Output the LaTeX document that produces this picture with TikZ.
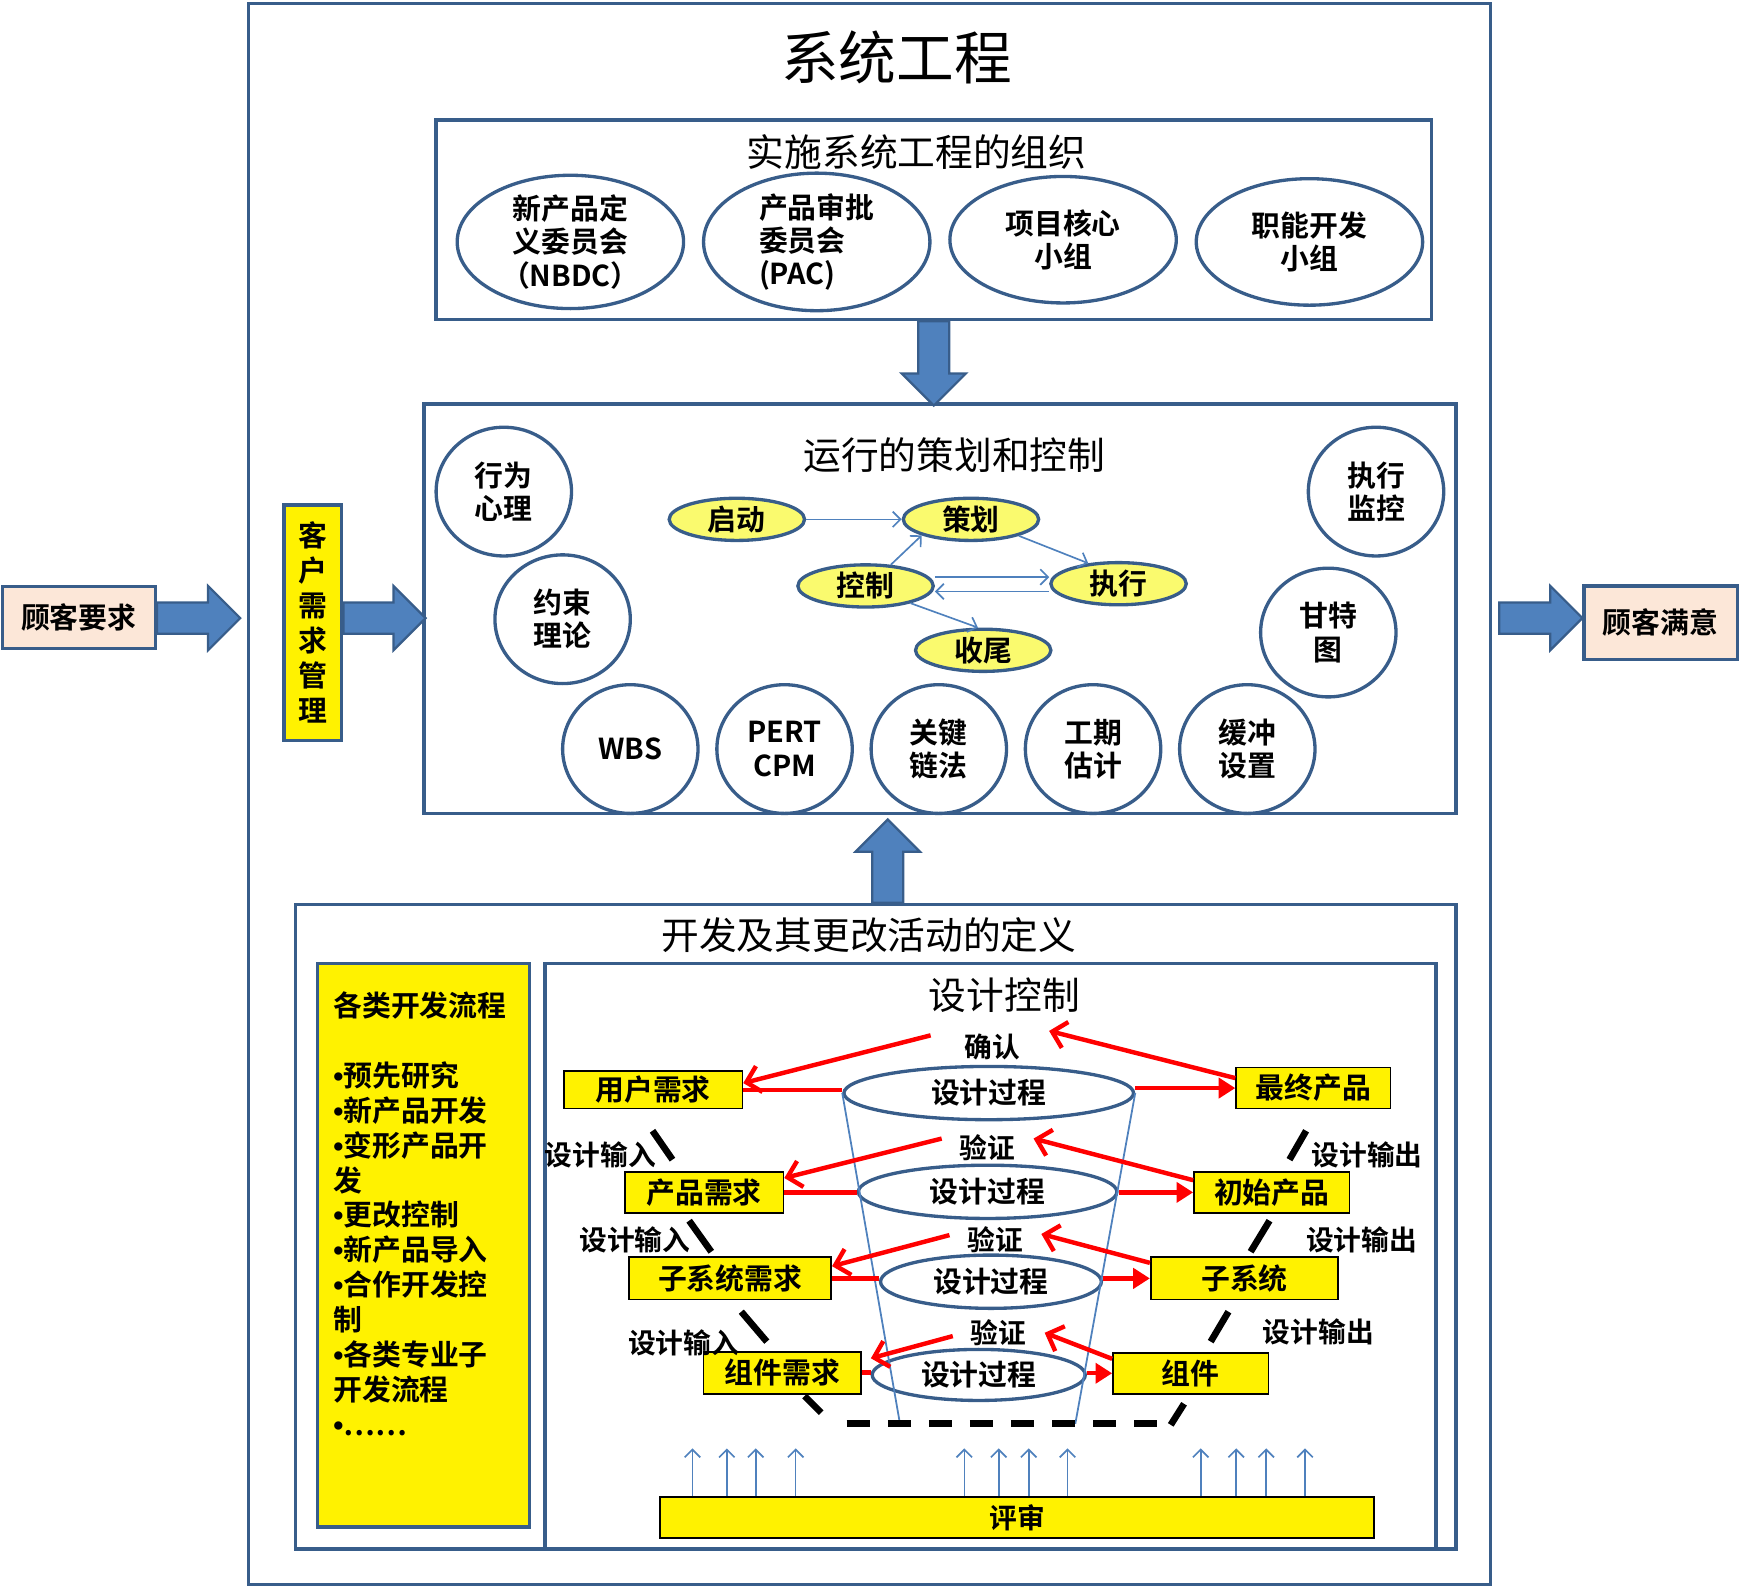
\documentclass[tikz,border=0pt]{standalone}
\usepackage{fontspec}
\setmainfont{Noto Sans CJK SC}[BoldFont={Noto Sans CJK SC Bold}]
\newfontfamily\bulfont{Liberation Sans}
\usetikzlibrary{arrows.meta, positioning, shapes.geometric, calc, fit}
\definecolor{boxblue}{RGB}{56,93,138}
\definecolor{fillblue}{RGB}{79,129,189}
\definecolor{peach}{RGB}{252,231,216}
\definecolor{lightyellow}{RGB}{250,250,110}
\definecolor{myred}{RGB}{255,0,0}
\newcommand{\itm}{{\bulfont\bfseries •}}

\begin{document}
\begin{tikzpicture}[x=0.5pt, y=-0.5pt,
    bluebox/.style={draw=boxblue, line width=1.5pt, inner sep=0pt},
    heading/.style={font=\fontsize{17pt}{20pt}\selectfont},
    lab/.style={font=\bfseries\fontsize{13pt}{15pt}\selectfont, align=center},
    orgell/.style={lab, ellipse, draw=boxblue, line width=1.5pt, minimum width=102pt, minimum height=57pt, inner sep=0pt},
    toolcirc/.style={lab, ellipse, draw=boxblue, line width=1.5pt, minimum width=61pt, minimum height=58pt, inner sep=0pt},
    stepell/.style={lab, ellipse, draw=boxblue, line width=1.5pt, fill=lightyellow, minimum width=61pt, minimum height=19pt, inner sep=0pt},
    ybox/.style={lab, draw=black, line width=0.8pt, fill=yellow, inner sep=0pt},
    pbox/.style={lab, draw=boxblue, line width=1.5pt, fill=peach, inner sep=0pt},
    procell/.style={lab, ellipse, draw=boxblue, line width=1.5pt, inner sep=0pt},
    vlabel/.style={lab, font=\bfseries\fontsize{12.5pt}{14pt}\selectfont, inner xsep=8pt, inner ysep=0pt},
    iolabel/.style={lab, font=\bfseries\fontsize{12.5pt}{14pt}\selectfont, inner sep=0pt},
    bigarrow/.style={fill=fillblue, draw=boxblue, line width=1pt},
    thinarrow/.style={draw=fillblue, line width=0.75pt, -{Straight Barb[length=3.5pt,width=7pt]}},
    redline/.style={draw=myred, line width=2pt},
    redopen/.style={redline, -{Straight Barb[length=6pt,width=12pt]}},
    redsolid/.style={redline, -{Triangle[length=7.5pt,width=9pt]}},
    ioslash/.style={draw=black, line width=3pt},
    funnel/.style={draw=fillblue, line width=0.8pt},
]
    \useasboundingbox (0,0) rectangle (1568,1431);

    % Outer frame
    \node[bluebox, fit={(224,3) (1343,1428)}] (sysbox) {};
    \node[font=\fontsize{26pt}{30pt}\selectfont] (systitle) at (808,52) {系统工程};

    % Customer in and out
    \node[pbox, minimum width=69pt, minimum height=28pt] (custreq) at (71,556.5) {顾客要求};
    \node[pbox, minimum width=69pt, minimum height=33pt] (custsat) at (1496.5,561) {顾客满意};
    \node[ybox, draw=boxblue, line width=1.5pt, minimum width=26pt, minimum height=106pt,
          font=\bfseries\fontsize{13pt}{15.75pt}\selectfont] (crm) at (282,561) {客\\户\\需\\求\\管\\理};

    % Organisation
    \node[bluebox, fit={(393,108) (1290,288)}] (orgbox) {};
    \node[heading] (orgtitle) at (826,137) {实施系统工程的组织};
    \node[orgell] (nbdc) at (514,218) {新产品定\\义委员会\\（NBDC）};
    \node[orgell, align=left] (pac) at (736,218) {产品审批\\委员会\\(PAC)};
    \node[orgell] (core) at (958,216) {项目核心\\小组};
    \node[orgell] (func) at (1180,218) {职能开发\\小组};

    % Planning and control
    \node[bluebox, fit={(382,364) (1312,733)}] (planbox) {};
    \node[heading] (plantitle) at (860,410) {运行的策划和控制};
    \node[toolcirc] (psych) at (454,443) {行为\\心理};
    \node[toolcirc] (toc) at (507,558) {约束\\理论};
    \node[toolcirc] (wbs) at (568,675) {WBS};
    \node[toolcirc] (pert) at (707,675) {PERT\\CPM};
    \node[toolcirc] (ccpm) at (846,675) {关键\\链法};
    \node[toolcirc] (dur) at (985,675) {工期\\估计};
    \node[toolcirc] (buf) at (1124,675) {缓冲\\设置};
    \node[toolcirc] (gantt) at (1197,570) {甘特\\图};
    \node[toolcirc] (monit) at (1240,443) {执行\\监控};

    \node[stepell] (start) at (664,468) {启动};
    \node[stepell] (plan) at (875,468) {策划};
    \node[stepell] (ctrl) at (780,528) {控制};
    \node[stepell] (exec) at (1008,526) {执行};
    \node[stepell] (close) at (886,586) {收尾};

    \draw[thinarrow] (start.east) -- (plan.west);
    \draw[thinarrow] (ctrl.40) -- (plan.198);
    \draw[thinarrow] (plan.341) -- (exec.146);
    \draw[thinarrow] ([yshift=4pt]ctrl.east) -- ([yshift=3pt]exec.west);
    \draw[thinarrow] ([yshift=-3.5pt]exec.west) -- ([yshift=-2.5pt]ctrl.east);
    \draw[thinarrow] (ctrl.339) -- (close.103);

    % Development and change
    \node[bluebox, fit={(266,815) (1312,1396)}] (devbox) {};
    \node[heading] (devtitle) at (783,843) {开发及其更改活动的定义};
    \node[ybox, draw=boxblue, line width=1.5pt, fit={(286,868) (477,1376)}] (flowbox) {};
    \node[lab, align=left, anchor=north west, inner sep=0pt,
          font=\bfseries\fontsize{13pt}{15.75pt}\selectfont] (flowlist) at (300,893)
          {各类开发流程\\[15.75pt]\itm 预先研究\\\itm 新产品开发\\\itm 变形产品开\\发\\\itm 更改控制\\\itm 新产品导入\\\itm 合作开发控\\制\\\itm 各类专业子\\开发流程\\\itm ……};

    % Design control
    \node[bluebox, fit={(491,868) (1294,1396)}] (dcbox) {};
    \node[heading] (dctitle) at (905,897) {设计控制};

    \node[ybox, minimum width=80.5pt, minimum height=17pt] (ur) at (588.5,982) {用户需求};
    \node[ybox, minimum width=69.5pt, minimum height=18.5pt] (fp) at (1183.5,980.5) {最终产品};
    \node[ybox, minimum width=71.5pt, minimum height=18.5pt] (pr) at (634.5,1074.5) {产品需求};
    \node[ybox, minimum width=70pt, minimum height=18.5pt] (ip) at (1146,1074.5) {初始产品};
    \node[ybox, minimum width=91pt, minimum height=19pt] (sr) at (658,1152) {子系统需求};
    \node[ybox, minimum width=84.5pt, minimum height=19pt] (ss) at (1121.5,1152) {子系统};
    \node[ybox, minimum width=71pt, minimum height=19pt] (cr) at (705,1237) {组件需求};
    \node[ybox, minimum width=70pt, minimum height=18.5pt] (cp) at (1073,1237.5) {组件};
    \node[ybox, minimum width=321.5pt, minimum height=18.5pt,
          font=\bfseries\fontsize{12.5pt}{14pt}\selectfont] (review) at (916.5,1367.5) {评审};

    \node[procell, minimum width=130.5pt, minimum height=24pt] (dp1) at (891,985) {设计过程};
    \node[procell, minimum width=116.5pt, minimum height=24pt] (dp2) at (890,1074) {设计过程};
    \node[procell, minimum width=99.5pt, minimum height=24pt] (dp3) at (893,1155) {设计过程};
    \node[procell, minimum width=96pt, minimum height=23pt] (dp4) at (882,1239) {设计过程};

    \node[vlabel] (qr1) at (894,943) {确认};
    \node[vlabel] (vf1) at (890,1034) {验证};
    \node[vlabel] (vf2) at (897,1117) {验证};
    \node[vlabel] (vf3) at (900,1201) {验证};

    \node[iolabel] (in1) at (541,1041) {设计输入};
    \node[iolabel] (in2) at (572,1117) {设计输入};
    \node[iolabel] (in3) at (616,1210) {设计输入};
    \node[iolabel] (out1) at (1232,1041) {设计输出};
    \node[iolabel] (out2) at (1227,1117) {设计输出};
    \node[iolabel] (out3) at (1188,1200) {设计输出};

    % Funnel and V outline
    \coordinate (fl) at (811,1283);
    \coordinate (fr) at (969,1283);
    \draw[funnel] (dp1.west) -- (fl);
    \draw[funnel] (dp1.east) -- (fr);
    \draw[ioslash, dash pattern=on 10.5pt off 8pt] (763,1283) -- (1051,1283);
    \draw[ioslash] (588,1019) -- (606,1045) (621,1100) -- (641,1128) (668,1182) -- (691,1209) (725,1258) -- (740,1273)
                   (1177,1019) -- (1162,1045) (1144,1100) -- (1127,1128) (1107,1182) -- (1091,1209) (1067,1265) -- (1055,1284);

    % Requirement / product flows
    \draw[redline] (ur.east) -- (ur.east -| dp1.west);
    \draw[redsolid] (fp.west -| dp1.east) -- (fp.west);
    \draw[redline] (pr.east) -- (pr.east -| dp2.west);
    \draw[redsolid] (ip.west -| dp2.east) -- (ip.west);
    \draw[redline] (sr.east) -- (sr.east -| dp3.west);
    \draw[redsolid] (ss.west -| dp3.east) -- (ss.west);
    \draw[redline] (cr.east) -- (cr.east -| dp4.west);
    \draw[redsolid] (cp.west -| dp4.east) -- (cp.west);

    % Validation and verification
    \draw[redopen] ([xshift=-7pt,yshift=5pt]qr1.west) -- ([yshift=3pt]ur.east);
    \draw[redopen] ([yshift=4.5pt]fp.west) -- ([xshift=5pt,yshift=7pt]qr1.east);
    \draw[redopen] ([yshift=4pt]vf1.west) -- ([yshift=6.5pt]pr.east);
    \draw[redopen] ([yshift=5.5pt]ip.west) -- ([yshift=4pt]vf1.east);
    \draw[redopen] ([yshift=2pt]vf2.west) -- ([yshift=5.5pt]sr.east);
    \draw[redopen] ([yshift=7pt]ss.west) -- ([yshift=2.5pt]vf2.east);
    \draw[redopen] ([yshift=-1.5pt]vf3.west) -- ([xshift=4pt,yshift=6.5pt]cr.east);
    \draw[redopen] ([yshift=6.5pt]cp.west) -- (vf3.east);

    % Reviews
    \foreach \x in {624,655,681,717,869,900,927,962,1082,1114,1141,1176}
        \draw[thinarrow] (\x,0 |- review.north) -- ++(0,-43);

    % Block arrows
    \draw[bigarrow] ($(custreq.east)+(0,-13.5)$) -- ++(46,0) -- ++(0,-15) -- ++(29,29) -- ++(-29,29) -- ++(0,-15) -- ++(-46,0) -- cycle;
    \draw[bigarrow] ($(crm.east)+(0,-18)$) -- ++(45,0) -- ++(0,-15) -- ++(29,29) -- ++(-29,29) -- ++(0,-15) -- ++(-45,0) -- cycle;
    \draw[bigarrow] ($(custsat.west)+(-75,-18)$) -- ++(46,0) -- ++(0,-15) -- ++(29,29) -- ++(-29,29) -- ++(0,-15) -- ++(-46,0) -- cycle;
    \draw[bigarrow] ($(orgbox.south)+(-14,0)$) -- ++(28,0) -- ++(0,47) -- ++(15,0) -- ++(-29,29) -- ++(-29,-29) -- ++(15,0) -- cycle;
    \draw[bigarrow] ($(devbox.north)+(-3,0)$) -- ++(28,0) -- ++(0,-46) -- ++(15,0) -- ++(-29,-29) -- ++(-29,29) -- ++(15,0) -- cycle;
\end{tikzpicture}
\end{document}
